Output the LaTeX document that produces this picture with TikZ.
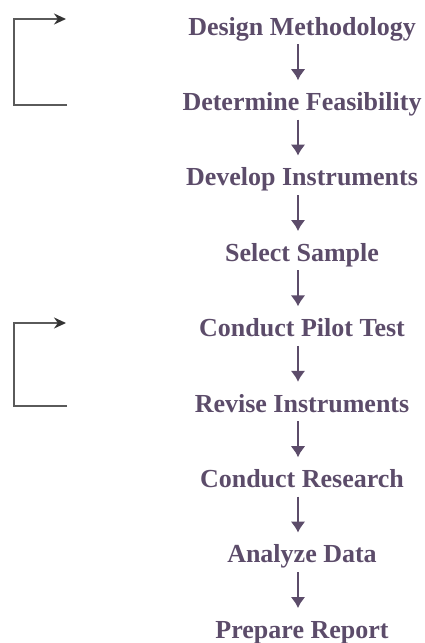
\documentclass[tikz,border=0pt]{standalone}
\usepackage{fontspec}
\setmainfont{Liberation Serif}
\usepackage{tikz}
\usetikzlibrary{positioning, arrows.meta}
\definecolor{stagecol}{RGB}{92,76,106}
\definecolor{redocol}{RGB}{90,90,90}
\tikzset{stage/.style = {text=stagecol, font=\bfseries\fontsize{26}{30}\selectfont,
                         inner sep=0pt, text height=18pt, text depth=6pt, anchor=base},
         flow/.style  = {draw=stagecol, line width=2.4pt, -{Latex[length=11pt,width=15pt]},
                         shorten <=3pt, shorten >=12pt},
         redo/.style  = {draw=redocol, line width=1.8pt, -{Stealth[length=12pt,width=11pt,black!80]}}}

\begin{document}
\begin{tikzpicture}[x=1pt, y=1pt]
            \useasboundingbox (0,0) rectangle (424,-643);

            \node [stage] (0) at (302, -35.0)  {Design Methodology};
            \node [stage] (1) at (302, -110.4) {Determine Feasibility};
            \node [stage] (2) at (302, -185.8) {Develop Instruments};
            \node [stage] (3) at (302, -261.2) {Select Sample};
            \node [stage] (4) at (302, -336.6) {Conduct Pilot Test};
            \node [stage] (5) at (302, -412.0) {Revise Instruments};
            \node [stage] (6) at (302, -487.4) {Conduct Research};
            \node [stage] (7) at (302, -562.8) {Analyze Data};
            \node [stage] (8) at (302, -638.2) {Prepare Report};

            \foreach \i/\j in {0/1, 1/2, 2/3, 3/4, 4/5, 5/6, 6/7, 7/8}
                \draw [flow] ([xshift=-4pt]\i.south) -- ([xshift=-4pt]\j.north);

            % feedback brackets on the left
            \coordinate (a0) at (67, -105);
            \coordinate (a1) at (66, -19);
            \coordinate (b0) at (67, -406);
            \coordinate (b1) at (66, -323);
            \draw [redo] (a0) -- (14, -105) |- (a1);
            \draw [redo] (b0) -- (14, -406) |- (b1);
        \end{tikzpicture}
\end{document}
